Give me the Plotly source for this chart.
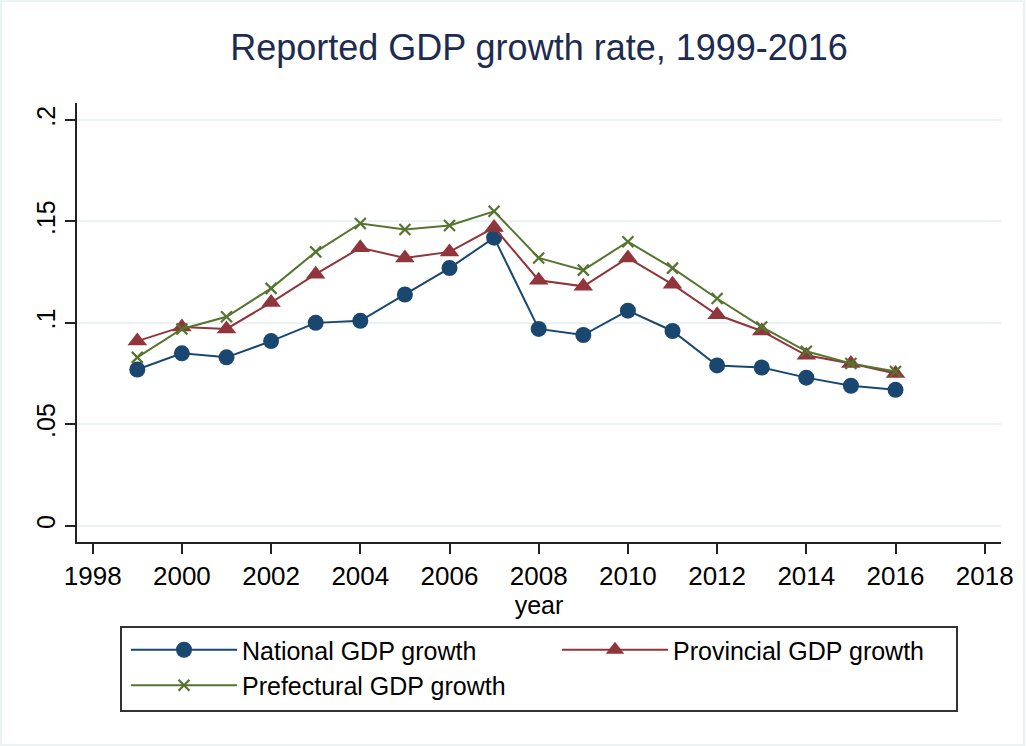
import plotly.graph_objects as go

years = list(range(1999, 2017))
national = [0.077, 0.085, 0.083, 0.091, 0.100, 0.101, 0.114, 0.127, 0.142,
            0.097, 0.094, 0.106, 0.096, 0.079, 0.078, 0.073, 0.069, 0.067]
provincial = [0.091, 0.098, 0.097, 0.110, 0.124, 0.137, 0.132, 0.135, 0.147,
              0.121, 0.118, 0.132, 0.119, 0.104, 0.096, 0.084, 0.080, 0.075]
prefectural = [0.083, 0.097, 0.103, 0.117, 0.135, 0.149, 0.146, 0.148, 0.155,
               0.132, 0.126, 0.140, 0.127, 0.112, 0.098, 0.086, 0.080, 0.076]

x_ticks = list(range(1998, 2019, 2))
y_ticks = [0, 0.05, 0.1, 0.15, 0.2]
y_tick_text = ["0", ".05", ".1", ".15", ".2"]

FONT = "Liberation Sans, Arial, sans-serif"
NAVY = "#1a476f"
MAROON = "#90353b"
GREEN = "#55752f"
AXIS = "#222222"

# plot area in pixels: left 77, right 1001, top 103, bottom 542
PW, PH = 924, 439

fig = go.Figure()
fig.add_trace(go.Scatter(
    x=years, y=national, name="National GDP growth", mode="lines+markers",
    line=dict(color=NAVY, width=2),
    marker=dict(symbol="circle", size=16, color=NAVY),
))
fig.add_trace(go.Scatter(
    x=years, y=provincial, name="Provincial GDP growth", mode="lines+markers",
    line=dict(color=MAROON, width=2),
    marker=dict(symbol="triangle-up", size=17, color=MAROON),
))
fig.add_trace(go.Scatter(
    x=years, y=prefectural, name="Prefectural GDP growth", mode="lines+markers",
    line=dict(color=GREEN, width=2),
    marker=dict(symbol="x-thin-open", size=11, color=GREEN,
                line=dict(color=GREEN, width=2.2)),
))

fig.update_layout(
    width=1026, height=746,
    margin=dict(l=77, r=25, t=103, b=204),
    paper_bgcolor="white", plot_bgcolor="white",
    font=dict(family=FONT, size=25, color="black"),
    title=dict(text="Reported GDP growth rate, 1999-2016",
               font=dict(family=FONT, size=36, color="#1e2b50"),
               x=0.5, xref="paper", xanchor="center",
               y=1 - 47 / 746, yref="container", yanchor="middle"),
    xaxis=dict(range=[1997.648, 2018.365], tickvals=x_ticks,
               tickfont=dict(family=FONT, size=26, color="black"),
               showgrid=False, zeroline=False,
               showline=True, linecolor=AXIS, linewidth=2,
               ticks="outside", ticklen=10, tickwidth=2, tickcolor=AXIS,
               title=dict(text="year", standoff=2,
                          font=dict(family=FONT, size=25, color="black"))),
    yaxis=dict(range=[-0.00804, 0.2084], tickvals=y_ticks, ticktext=y_tick_text,
               tickfont=dict(family=FONT, size=25, color="black"),
               tickangle=-90, showgrid=True, gridcolor="#eaf2f3", gridwidth=2,
               zeroline=False, showline=True, linecolor=AXIS, linewidth=2,
               ticks="outside", ticklen=10, tickwidth=2, tickcolor=AXIS),
    legend=dict(orientation="h", x=(126 - 77) / PW, xanchor="left",
                y=(542 - 627) / PH, yanchor="top",
                borderwidth=0, bgcolor="rgba(0,0,0,0)",
                font=dict(family=FONT, size=25, color="black"),
                itemwidth=106, entrywidth=310, entrywidthmode="pixels",
                traceorder="normal"),
    shapes=[
        # light outer frame of the whole graph region
        dict(type="rect", xref="paper", yref="paper",
             x0=-76 / PW, x1=(1024 - 77) / PW,
             y0=-203 / PH, y1=1 + 102 / PH,
             line=dict(color="#eaf2f3", width=2), layer="below"),
        # legend frame
        dict(type="rect", xref="paper", yref="paper",
             x0=(121 - 77) / PW, x1=(957 - 77) / PW,
             y0=(542 - 711) / PH, y1=(542 - 627) / PH,
             line=dict(color="#333333", width=2), layer="above"),
    ],
)

fig.write_html("out.html")
